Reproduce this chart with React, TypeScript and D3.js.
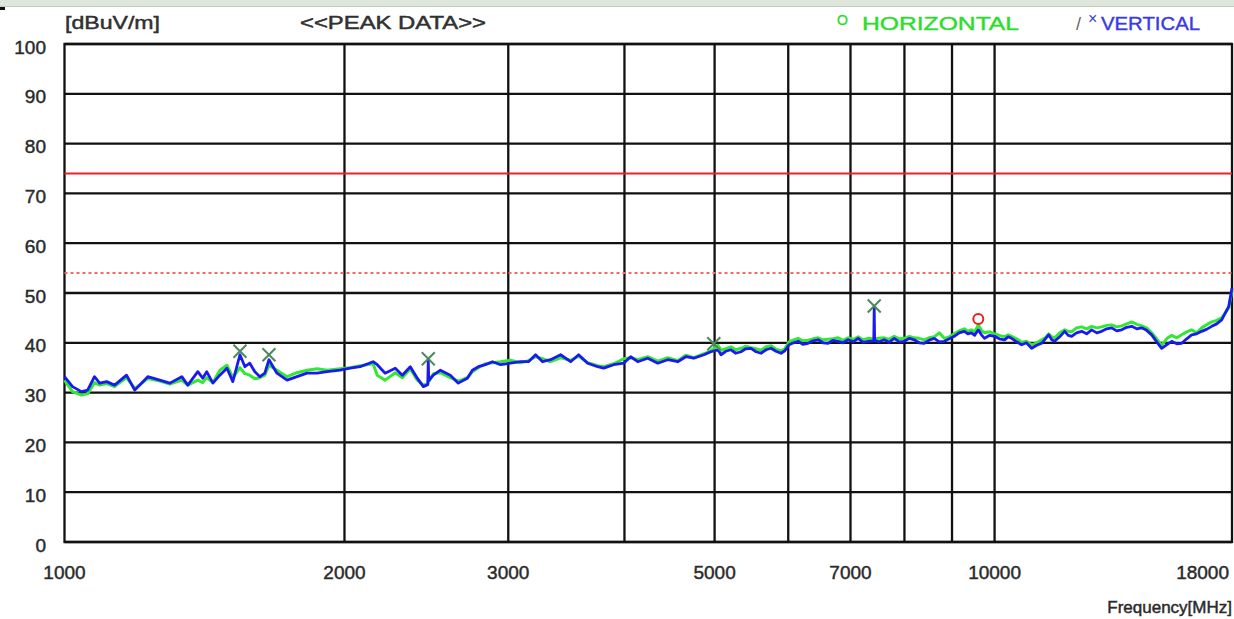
import * as d3 from 'd3'

const W = 1234
const H = 619
const LEFT = 64.5
const RIGHT = 1232
const TOP = 44
const BOTTOM = 542

const FONT = 'Liberation Sans, Arial, sans-serif'

// frequency points (MHz) shared by both polarizations
const freqs = [
  1000, 1020, 1043, 1059, 1077, 1091, 1110, 1132, 1166, 1190, 1229, 1266, 1298, 1337, 1357,
  1391, 1408, 1422, 1444, 1469, 1495, 1517, 1544, 1563, 1582, 1602, 1622, 1642, 1659, 1692,
  1735, 1778, 1823, 1869, 1916, 1979, 2028, 2079, 2147, 2169, 2212, 2268, 2308, 2354, 2395,
  2431, 2458, 2461, 2464, 2492, 2536, 2599, 2651, 2711, 2745, 2786, 2835, 2885, 2943, 3017,
  3092, 3154, 3210, 3266, 3331, 3415, 3501, 3571, 3652, 3743, 3799, 3895, 3992, 4062, 4134,
  4237, 4344, 4453, 4564, 4656, 4749, 4870, 4955, 5042, 5080, 5140, 5207, 5270, 5338, 5400,
  5472, 5540, 5609, 5680, 5750, 5820, 5894, 5950, 6012, 6080, 6148, 6220, 6302, 6380, 6461,
  6540, 6623, 6700, 6789, 6870, 6959, 7050, 7134, 7220, 7313, 7400, 7415, 7423, 7431, 7510,
  7609, 7700, 7800, 7900, 7996, 8100, 8196, 8300, 8402, 8500, 8613, 8720, 8829, 8940, 9050,
  9160, 9277, 9360, 9440, 9520, 9605, 9680, 9755, 9880, 10000, 10120, 10251, 10340, 10431, 10560,
  10692, 10820, 10960, 11100, 11235, 11340, 11432, 11520, 11603, 11750, 11894, 12000, 12102, 12250, 12406,
  12560, 12717, 12880, 13036, 13200, 13362, 13530, 13697, 13870, 14041, 14220, 14393, 14570, 14754, 14940,
  15124, 15310, 15503, 15700, 15892, 16090, 16290, 16490, 16699, 16900, 17118, 17330, 17547, 17855, 18000,
]

const vertical = [
  33.2, 31.2, 30.2, 30.5, 33.2, 31.9, 32.2, 31.5, 33.5, 30.5, 33.2, 32.5, 31.9, 33.2, 31.5,
  34.2, 32.9, 34.2, 31.9, 33.5, 34.9, 32.2, 37.6, 35.2, 35.9, 34.2, 33.2, 33.9, 36.6, 33.9,
  32.5, 33.2, 33.9, 33.9, 34.2, 34.5, 34.9, 35.2, 36.2, 35.6, 33.9, 34.9, 33.5, 35.2, 32.9,
  31.2, 31.6, 36.6, 32.4, 33.5, 34.5, 33.5, 31.9, 32.9, 34.5, 35.2, 35.6, 36.2, 35.6, 35.9,
  36.2, 36.2, 37.6, 36.2, 36.6, 37.6, 36.2, 37.6, 35.9, 35.2, 34.9, 35.6, 35.9, 37.2, 36.2,
  36.9, 35.9, 36.6, 36.2, 37.2, 36.9, 37.6, 38.2, 38.6, 37.6, 38.3, 38.6, 37.9, 38.2, 38.8,
  38.9, 38.2, 37.9, 38.6, 38.9, 38.3, 37.9, 38.4, 39.6, 40.0, 40.3, 39.7, 39.9, 40.4, 40.6,
  40.0, 39.9, 40.5, 40.3, 40.0, 40.6, 40.2, 40.9, 40.1, 40.3, 40.4, 40.5, 47.0, 40.5, 40.2,
  40.6, 40.1, 40.9, 40.2, 40.3, 40.9, 40.6, 40.0, 39.9, 40.5, 40.9, 40.2, 40.3, 40.8, 41.3,
  42.0, 42.3, 41.8, 42.0, 41.5, 42.6, 41.6, 40.9, 41.5, 41.3, 40.8, 40.6, 41.2, 40.9, 40.2,
  39.6, 40.0, 38.9, 39.5, 39.9, 40.8, 41.6, 40.6, 40.3, 41.2, 42.3, 41.5, 41.3, 42.0, 42.3,
  41.8, 42.6, 42.0, 42.3, 42.8, 43.0, 42.4, 42.6, 43.1, 43.3, 42.8, 43.0, 42.5, 41.6, 40.2,
  38.9, 39.6, 40.3, 39.8, 39.9, 40.8, 41.6, 41.8, 42.3, 42.7, 43.3, 43.8, 44.6, 47.3, 51.0,
]

const horizontal = [
  32.5, 30.2, 29.5, 29.8, 32.0, 31.5, 31.8, 31.2, 33.0, 30.8, 32.8, 32.3, 31.7, 32.5, 31.5,
  32.5, 32.0, 33.0, 32.0, 34.5, 35.5, 33.0, 35.0, 33.8, 33.5, 32.8, 33.0, 33.5, 35.5, 34.5,
  33.2, 34.0, 34.5, 34.8, 34.5, 34.8, 35.0, 35.4, 35.8, 33.5, 32.5, 34.0, 33.0, 34.8, 32.5,
  31.5, 31.8, 32.0, 32.2, 33.8, 34.0, 33.0, 32.3, 33.0, 34.2, 35.0, 35.8, 36.0, 36.2, 36.5,
  36.0, 36.4, 37.2, 36.8, 36.2, 37.0, 36.5, 37.3, 36.0, 35.4, 35.2, 35.8, 36.8, 37.0, 36.6,
  37.2, 36.3, 37.0, 36.4, 37.5, 37.0, 37.8, 38.4, 39.5, 38.5, 38.8, 39.2, 38.6, 38.9, 39.3,
  39.0, 38.8, 38.5, 39.2, 39.4, 38.7, 38.4, 38.8, 40.2, 40.6, 40.9, 40.4, 40.5, 40.8, 41.0,
  40.6, 40.7, 40.8, 41.0, 40.5, 41.0, 40.7, 41.2, 40.6, 40.9, 40.8, 40.8, 40.8, 40.8, 40.9,
  41.0, 40.7, 41.3, 40.8, 40.9, 41.3, 41.0, 40.9, 40.6, 41.0, 41.2, 42.0, 40.9, 41.2, 41.8,
  42.4, 42.8, 42.3, 42.6, 42.2, 43.6, 42.5, 42.0, 42.2, 41.8, 41.5, 41.2, 41.6, 41.3, 40.8,
  40.1, 40.3, 39.6, 40.0, 40.6, 41.0, 41.8, 41.2, 41.0, 42.0, 42.6, 42.3, 42.2, 43.0, 43.2,
  42.8, 43.3, 43.0, 43.2, 43.5, 43.6, 43.2, 43.4, 43.8, 44.2, 43.7, 43.4, 43.0, 42.0, 40.8,
  39.5, 40.8, 41.5, 41.0, 41.6, 42.2, 42.6, 42.0, 43.0, 43.6, 44.2, 44.5, 45.0, 47.0, 50.5,
]

// peak markers
const vertPeakFreqs = [1544, 1659, 2461, 4990, 7423]
const vertPeakLevels = [38.3, 37.6, 36.8, 39.8, 47.4]
const horizPeakFreqs = [9605]
const horizPeakLevels = [44.8]

// limits
const peakLimit = 74
const avgLimit = 54

const gridFreqs = [2000, 3000, 4000, 5000, 6000, 7000, 8000, 9000, 10000]
const xTickLabels = [1000, 2000, 3000, 5000, 7000, 10000, 18000]
const yTicks = [0, 10, 20, 30, 40, 50, 60, 70, 80, 90, 100]

export default function App() {
  const x = d3.scaleLog().domain([1000, 18000]).range([LEFT, RIGHT])
  const y = d3.scaleLinear().domain([0, 100]).range([BOTTOM, TOP])

  const line = d3
    .line<number>()
    .x((_, i) => x(freqs[i]))
    .y((d) => y(d))

  const tickColor = '#2a2a2a'
  // slight stroke to mimic the heavier, blurred text of the scan
  const heavy = { stroke: tickColor, strokeWidth: 0.45 }

  return (
    <>
      <style>{`body{margin:0}`}</style>
      <svg width={W} height={H} style={{ display: 'block', background: '#fff', fontFamily: FONT }}>
        {/* cropped caption strip */}
        <rect x={0} y={0} width={W} height={6} fill="#dfe7dd" />
        <line x1={0} x2={W} y1={6.5} y2={6.5} stroke="#c3ccc2" strokeWidth={1} />
        <rect x={0} y={7} width={5} height={3} fill="#111" />

        {/* header texts */}
        <text x={65} y={29} fontSize={18} fill="#333" textLength={95} lengthAdjust="spacingAndGlyphs" {...heavy}>
          [dBuV/m]
        </text>
        <text x={300} y={29} fontSize={18} fill="#333" textLength={186} lengthAdjust="spacingAndGlyphs" {...heavy}>
          {'<<PEAK DATA>>'}
        </text>
        <text x={837} y={25} fontSize={14} fill="#2edc2e" stroke="#2edc2e" strokeWidth={0.4}>O</text>
        <text
          x={862}
          y={30}
          fontSize={18}
          fill="#2edc2e"
          stroke="#2edc2e"
          strokeWidth={0.4}
          textLength={157}
          lengthAdjust="spacingAndGlyphs"
        >
          HORIZONTAL
        </text>
        <text x={1076} y={30} fontSize={18} fill="#666">/</text>
        <text x={1088} y={24} fontSize={16} fill="#3a3ae6">×</text>
        <text
          x={1101}
          y={30}
          fontSize={18}
          fill="#3a3ae6"
          stroke="#3a3ae6"
          strokeWidth={0.4}
          textLength={99}
          lengthAdjust="spacingAndGlyphs"
        >
          VERTICAL
        </text>

        {/* horizontal grid */}
        {yTicks.map((t) => (
          <line key={'h' + t} x1={LEFT} x2={RIGHT} y1={y(t)} y2={y(t)} stroke="#111" strokeWidth={2.3} />
        ))}
        {/* vertical grid */}
        {gridFreqs.map((f) => (
          <line key={'v' + f} x1={x(f)} x2={x(f)} y1={TOP} y2={BOTTOM} stroke="#111" strokeWidth={2.3} />
        ))}
        <rect x={LEFT} y={TOP} width={RIGHT - LEFT} height={BOTTOM - TOP} fill="none" stroke="#111" strokeWidth={2.3} />

        {/* limit lines */}
        <line x1={LEFT} x2={RIGHT} y1={y(peakLimit)} y2={y(peakLimit)} stroke="#e8232b" strokeWidth={2} />
        <line
          x1={LEFT}
          x2={RIGHT}
          y1={y(avgLimit)}
          y2={y(avgLimit)}
          stroke="#f26a6a"
          strokeWidth={2}
          strokeDasharray="3 3"
        />

        {/* traces */}
        <path d={line(horizontal) ?? ''} fill="none" stroke="#33e833" strokeWidth={3} strokeLinejoin="round" />
        <path d={line(vertical) ?? ''} fill="none" stroke="#1a1af0" strokeWidth={2.8} strokeLinejoin="round" />

        {/* peak markers */}
        {vertPeakFreqs.map((f, i) => {
          const cx = x(f)
          const cy = y(vertPeakLevels[i])
          const s = 6.5
          return (
            <g key={'vp' + f} stroke="#4c8a5c" strokeWidth={2}>
              <line x1={cx - s} y1={cy - s} x2={cx + s} y2={cy + s} />
              <line x1={cx - s} y1={cy + s} x2={cx + s} y2={cy - s} />
            </g>
          )
        })}
        {horizPeakFreqs.map((f, i) => (
          <circle
            key={'hp' + f}
            cx={x(f)}
            cy={y(horizPeakLevels[i])}
            r={5}
            fill="none"
            stroke="#e82020"
            strokeWidth={2}
          />
        ))}

        {/* y tick labels */}
        {yTicks.map((t) => (
          <text
            key={'yl' + t}
            x={46}
            y={y(t) + 3}
            fontSize={19}
            fill={tickColor}
            textAnchor="end"
            dominantBaseline="central"
            {...heavy}
          >
            {t}
          </text>
        ))}

        {/* x tick labels */}
        {xTickLabels.map((f) => (
          <text
            key={'xl' + f}
            x={f === 18000 ? 1229 : x(f)}
            y={579}
            fontSize={19}
            fill={tickColor}
            textAnchor={f === 18000 ? 'end' : 'middle'}
            {...heavy}
          >
            {f}
          </text>
        ))}
        <text x={1232} y={613} fontSize={17} fill={tickColor} textAnchor="end" {...heavy}>
          Frequency[MHz]
        </text>
      </svg>
    </>
  )
}
